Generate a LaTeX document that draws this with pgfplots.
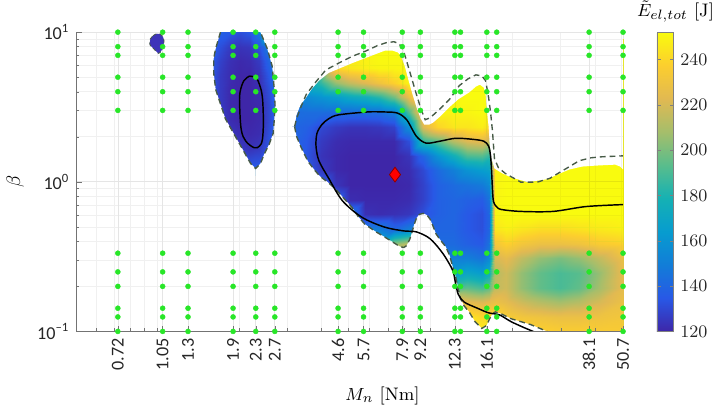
\documentclass[border=0pt]{standalone}
\usepackage{fontspec}
\usepackage{pgfplots}
\usepackage{pgfplotstable}
\pgfplotsset{compat=1.18}
\newfontfamily\calibri{Carlito}
\definecolor{dotgreen}{RGB}{40,230,40}
\definecolor{dashgray}{RGB}{70,90,70}
\definecolor{regA}{RGB}{62,52,185}
\pgfplotsset{colormap={parula}{rgb255=(62,38,168) rgb255=(40,88,230) rgb255=(18,125,216) rgb255=(7,156,207) rgb255=(21,177,180) rgb255=(89,189,140) rgb255=(165,190,107) rgb255=(225,185,82) rgb255=(252,206,46) rgb255=(249,251,14)}}

\pgfplotstableread{
x y c
3.112 9.03 170
3.519 9.03 175
3.980 9.03 205
4.502 9.03 245
5.092 9.03 250
5.759 9.03 250
6.514 9.03 252
7.368 9.03 252
8.334 9.03 252
9.426 9.03 252
10.66 9.03 252
12.06 9.03 252
13.64 9.03 252
15.43 9.03 252
16.34 9.03 252
17.30 9.03 252
18.94 9.03 252
21.43 9.03 252
25.25 9.03 252
29.75 9.03 252
35.06 9.03 252
41.32 9.03 252
50.7 9.03 252
3.112 7.209 170
3.519 7.209 175
3.980 7.209 205
4.502 7.209 245
5.092 7.209 250
5.759 7.209 250
6.514 7.209 252
7.368 7.209 252
8.334 7.209 252
9.426 7.209 252
10.66 7.209 252
12.06 7.209 252
13.64 7.209 252
15.43 7.209 252
16.34 7.209 252
17.30 7.209 252
18.94 7.209 252
21.43 7.209 252
25.25 7.209 252
29.75 7.209 252
35.06 7.209 252
41.32 7.209 252
50.7 7.209 252
3.112 5.756 165
3.519 5.756 172
3.980 5.756 200
4.502 5.756 240
5.092 5.756 245
5.759 5.756 248
6.514 5.756 250
7.368 5.756 250
8.334 5.756 252
9.426 5.756 252
10.66 5.756 252
12.06 5.756 252
13.64 5.756 252
15.43 5.756 252
16.34 5.756 252
17.30 5.756 252
18.94 5.756 252
21.43 5.756 252
25.25 5.756 252
29.75 5.756 252
35.06 5.756 252
41.32 5.756 252
50.7 5.756 252
3.112 4.596 160
3.519 4.596 168
3.980 4.596 185
4.502 4.596 205
5.092 4.596 215
5.759 4.596 222
6.514 4.596 230
7.368 4.596 238
8.334 4.596 250
9.426 4.596 250
10.66 4.596 252
12.06 4.596 252
13.64 4.596 252
15.43 4.596 252
16.34 4.596 250
17.30 4.596 252
18.94 4.596 252
21.43 4.596 252
25.25 4.596 252
29.75 4.596 252
35.06 4.596 252
41.32 4.596 252
50.7 4.596 252
3.112 3.669 150
3.519 3.669 155
3.980 3.669 160
4.502 3.669 165
5.092 3.669 172
5.759 3.669 176
6.514 3.669 183
7.368 3.669 198
8.334 3.669 228
9.426 3.669 248
10.66 3.669 250
12.06 3.669 250
13.64 3.669 252
15.43 3.669 252
16.34 3.669 250
17.30 3.669 252
18.94 3.669 252
21.43 3.669 252
25.25 3.669 252
29.75 3.669 252
35.06 3.669 252
41.32 3.669 252
50.7 3.669 252
3.112 2.930 142
3.519 2.930 143
3.980 2.930 143
4.502 2.930 142
5.092 2.930 142
5.759 2.930 142
6.514 2.930 143
7.368 2.930 150
8.334 2.930 192
9.426 2.930 240
10.66 2.930 250
12.06 2.930 250
13.64 2.930 250
15.43 2.930 252
16.34 2.930 248
17.30 2.930 252
18.94 2.930 252
21.43 2.930 252
25.25 2.930 252
29.75 2.930 252
35.06 2.930 252
41.32 2.930 252
50.7 2.930 252
3.112 2.339 140
3.519 2.339 138
3.980 2.339 130
4.502 2.339 126
5.092 2.339 124
5.759 2.339 124
6.514 2.339 125
7.368 2.339 128
8.334 2.339 158
9.426 2.339 222
10.66 2.339 240
12.06 2.339 245
13.64 2.339 245
15.43 2.339 248
16.34 2.339 240
17.30 2.339 252
18.94 2.339 252
21.43 2.339 252
25.25 2.339 252
29.75 2.339 252
35.06 2.339 252
41.32 2.339 252
50.7 2.339 252
3.112 1.868 140
3.519 1.868 135
3.980 1.868 126
4.502 1.868 122
5.092 1.868 121
5.759 1.868 121
6.514 1.868 121
7.368 1.868 121
8.334 1.868 132
9.426 1.868 185
10.66 1.868 195
12.06 1.868 212
13.64 1.868 222
15.43 1.868 225
16.34 1.868 215
17.30 1.868 252
18.94 1.868 252
21.43 1.868 252
25.25 1.868 252
29.75 1.868 252
35.06 1.868 252
41.32 1.868 252
50.7 1.868 252
3.112 1.491 140
3.519 1.491 134
3.980 1.491 124
4.502 1.491 121
5.092 1.491 120
5.759 1.491 120
6.514 1.491 120
7.368 1.491 120
8.334 1.491 124
9.426 1.491 140
10.66 1.491 160
12.06 1.491 175
13.64 1.491 190
15.43 1.491 192
16.34 1.491 185
17.30 1.491 252
18.94 1.491 252
21.43 1.491 252
25.25 1.491 252
29.75 1.491 252
35.06 1.491 252
41.32 1.491 252
50.7 1.491 252
3.112 1.191 140
3.519 1.191 136
3.980 1.191 126
4.502 1.191 121
5.092 1.191 120
5.759 1.191 120
6.514 1.191 120
7.368 1.191 120
8.334 1.191 122
9.426 1.191 130
10.66 1.191 142
12.06 1.191 150
13.64 1.191 160
15.43 1.191 165
16.34 1.191 168
17.30 1.191 250
18.94 1.191 252
21.43 1.191 252
25.25 1.191 252
29.75 1.191 252
35.06 1.191 252
41.32 1.191 252
50.7 1.191 252
3.112 0.9506 142
3.519 0.9506 138
3.980 0.9506 138
4.502 0.9506 124
5.092 0.9506 120
5.759 0.9506 120
6.514 0.9506 120
7.368 0.9506 120
8.334 0.9506 121
9.426 0.9506 128
10.66 0.9506 138
12.06 0.9506 142
13.64 0.9506 145
15.43 0.9506 148
16.34 0.9506 155
17.30 0.9506 250
18.94 0.9506 252
21.43 0.9506 252
25.25 0.9506 252
29.75 0.9506 252
35.06 0.9506 252
41.32 0.9506 252
50.7 0.9506 252
3.112 0.759 145
3.519 0.759 140
3.980 0.759 140
4.502 0.759 140
5.092 0.759 122
5.759 0.759 121
6.514 0.759 121
7.368 0.759 121
8.334 0.759 122
9.426 0.759 128
10.66 0.759 138
12.06 0.759 140
13.64 0.759 138
15.43 0.759 136
16.34 0.759 145
17.30 0.759 250
18.94 0.759 252
21.43 0.759 252
25.25 0.759 252
29.75 0.759 252
35.06 0.759 252
41.32 0.759 252
50.7 0.759 252
3.112 0.606 148
3.519 0.606 145
3.980 0.606 145
4.502 0.606 145
5.092 0.606 150
5.759 0.606 123
6.514 0.606 122
7.368 0.606 123
8.334 0.606 125
9.426 0.606 132
10.66 0.606 138
12.06 0.606 140
13.64 0.606 135
15.43 0.606 132
16.34 0.606 140
17.30 0.606 250
18.94 0.606 252
21.43 0.606 252
25.25 0.606 252
29.75 0.606 252
35.06 0.606 252
41.32 0.606 252
50.7 0.606 252
3.112 0.4838 155
3.519 0.4838 152
3.980 0.4838 150
4.502 0.4838 150
5.092 0.4838 150
5.759 0.4838 150
6.514 0.4838 150
7.368 0.4838 140
8.334 0.4838 150
9.426 0.4838 140
10.66 0.4838 140
12.06 0.4838 140
13.64 0.4838 135
15.43 0.4838 132
16.34 0.4838 140
17.30 0.4838 245
18.94 0.4838 248
21.43 0.4838 245
25.25 0.4838 242
29.75 0.4838 242
35.06 0.4838 244
41.32 0.4838 246
50.7 0.4838 248
3.112 0.3863 175
3.519 0.3863 175
3.980 0.3863 175
4.502 0.3863 170
5.092 0.3863 168
5.759 0.3863 165
6.514 0.3863 175
7.368 0.3863 205
8.334 0.3863 215
9.426 0.3863 150
10.66 0.3863 142
12.06 0.3863 142
13.64 0.3863 138
15.43 0.3863 135
16.34 0.3863 145
17.30 0.3863 232
18.94 0.3863 238
21.43 0.3863 232
25.25 0.3863 228
29.75 0.3863 228
35.06 0.3863 230
41.32 0.3863 235
50.7 0.3863 238
3.112 0.3084 200
3.519 0.3084 200
3.980 0.3084 200
4.502 0.3084 200
5.092 0.3084 200
5.759 0.3084 200
6.514 0.3084 205
7.368 0.3084 215
8.334 0.3084 220
9.426 0.3084 160
10.66 0.3084 150
12.06 0.3084 150
13.64 0.3084 150
15.43 0.3084 145
16.34 0.3084 155
17.30 0.3084 220
18.94 0.3084 225
21.43 0.3084 215
25.25 0.3084 205
29.75 0.3084 200
35.06 0.3084 205
41.32 0.3084 215
50.7 0.3084 228
3.112 0.2462 200
3.519 0.2462 200
3.980 0.2462 200
4.502 0.2462 200
5.092 0.2462 200
5.759 0.2462 200
6.514 0.2462 200
7.368 0.2462 200
8.334 0.2462 200
9.426 0.2462 170
10.66 0.2462 165
12.06 0.2462 165
13.64 0.2462 170
15.43 0.2462 165
16.34 0.2462 175
17.30 0.2462 212
18.94 0.2462 218
21.43 0.2462 205
25.25 0.2462 195
29.75 0.2462 190
35.06 0.2462 193
41.32 0.2462 205
50.7 0.2462 225
3.112 0.1966 210
3.519 0.1966 210
3.980 0.1966 210
4.502 0.1966 210
5.092 0.1966 210
5.759 0.1966 210
6.514 0.1966 210
7.368 0.1966 210
8.334 0.1966 210
9.426 0.1966 200
10.66 0.1966 195
12.06 0.1966 190
13.64 0.1966 195
15.43 0.1966 190
16.34 0.1966 195
17.30 0.1966 215
18.94 0.1966 218
21.43 0.1966 205
25.25 0.1966 195
29.75 0.1966 190
35.06 0.1966 195
41.32 0.1966 208
50.7 0.1966 225
3.112 0.157 230
3.519 0.157 230
3.980 0.157 230
4.502 0.157 230
5.092 0.157 230
5.759 0.157 230
6.514 0.157 230
7.368 0.157 230
8.334 0.157 230
9.426 0.157 230
10.66 0.157 230
12.06 0.157 230
13.64 0.157 225
15.43 0.157 222
16.34 0.157 225
17.30 0.157 228
18.94 0.157 225
21.43 0.157 218
25.25 0.157 212
29.75 0.157 208
35.06 0.157 212
41.32 0.157 220
50.7 0.157 228
3.112 0.1253 245
3.519 0.1253 245
3.980 0.1253 245
4.502 0.1253 245
5.092 0.1253 245
5.759 0.1253 245
6.514 0.1253 245
7.368 0.1253 245
8.334 0.1253 245
9.426 0.1253 245
10.66 0.1253 245
12.06 0.1253 245
13.64 0.1253 245
15.43 0.1253 240
16.34 0.1253 240
17.30 0.1253 242
18.94 0.1253 236
21.43 0.1253 232
25.25 0.1253 230
29.75 0.1253 228
35.06 0.1253 228
41.32 0.1253 230
50.7 0.1253 232
3.112 0.1 248
3.519 0.1 248
3.980 0.1 248
4.502 0.1 248
5.092 0.1 248
5.759 0.1 248
6.514 0.1 248
7.368 0.1 248
8.334 0.1 248
9.426 0.1 248
10.66 0.1 248
12.06 0.1 248
13.64 0.1 248
15.43 0.1 248
16.34 0.1 248
17.30 0.1 245
18.94 0.1 242
21.43 0.1 240
25.25 0.1 238
29.75 0.1 236
35.06 0.1 236
41.32 0.1 235
50.7 0.1 235
}\gridC

\pgfplotstableread{
x y c
1.574 10.03 140
1.708 10.03 138
1.855 10.03 135
2.014 10.03 132
2.186 10.03 135
2.373 10.03 150
2.576 10.03 195
2.797 10.03 235
1.574 8.010 138
1.708 8.010 132
1.855 8.010 126
2.014 8.010 124
2.186 8.010 125
2.373 8.010 132
2.576 8.010 150
2.797 8.010 180
1.574 6.395 136
1.708 6.395 128
1.855 6.395 123
2.014 6.395 121
2.186 6.395 122
2.373 6.395 126
2.576 6.395 140
2.797 6.395 160
1.574 5.107 135
1.708 5.107 126
1.855 5.107 122
2.014 5.107 120
2.186 5.107 120
2.373 5.107 123
2.576 5.107 135
2.797 5.107 150
1.574 4.078 135
1.708 4.078 126
1.855 4.078 121
2.014 4.078 120
2.186 4.078 120
2.373 4.078 122
2.576 4.078 132
2.797 4.078 145
1.574 3.256 135
1.708 3.256 126
1.855 3.256 121
2.014 3.256 120
2.186 3.256 120
2.373 3.256 121
2.576 3.256 130
2.797 3.256 142
1.574 2.600 135
1.708 2.600 128
1.855 2.600 122
2.014 2.600 120
2.186 2.600 120
2.373 2.600 121
2.576 2.600 130
2.797 2.600 142
1.574 2.077 135
1.708 2.077 130
1.855 2.077 125
2.014 2.077 122
2.186 2.077 121
2.373 2.077 122
2.576 2.077 132
2.797 2.077 142
1.574 1.658 138
1.708 1.658 135
1.855 1.658 130
2.014 1.658 126
2.186 1.658 124
2.373 1.658 126
2.576 1.658 134
2.797 1.658 142
1.574 1.324 140
1.708 1.324 140
1.855 1.324 138
2.014 1.324 135
2.186 1.324 133
2.373 1.324 134
2.576 1.324 138
2.797 1.324 142
1.574 1.106 142
1.708 1.106 142
1.855 1.106 142
2.014 1.106 142
2.186 1.106 142
2.373 1.106 142
2.576 1.106 142
2.797 1.106 142
}\gridB

\pgfplotstableread{
x y
0.72 0.1
0.72 0.125
0.72 0.1429
0.72 0.2
0.72 0.25
0.72 0.3333
0.72 3
0.72 4
0.72 5
0.72 7
0.72 8
0.72 10
1.05 0.1
1.05 0.125
1.05 0.1429
1.05 0.2
1.05 0.25
1.05 0.3333
1.05 3
1.05 4
1.05 5
1.05 7
1.05 8
1.05 10
1.3 0.1
1.3 0.125
1.3 0.1429
1.3 0.2
1.3 0.25
1.3 0.3333
1.3 3
1.3 4
1.3 5
1.3 7
1.3 8
1.3 10
1.9 0.1
1.9 0.125
1.9 0.1429
1.9 0.2
1.9 0.25
1.9 0.3333
1.9 3
1.9 4
1.9 5
1.9 7
1.9 8
1.9 10
2.3 0.1
2.3 0.125
2.3 0.1429
2.3 0.2
2.3 0.25
2.3 0.3333
2.3 3
2.3 4
2.3 5
2.3 7
2.3 8
2.3 10
2.7 0.1
2.7 0.125
2.7 0.1429
2.7 0.2
2.7 0.25
2.7 0.3333
2.7 3
2.7 4
2.7 5
2.7 7
2.7 8
2.7 10
4.6 0.1
4.6 0.125
4.6 0.1429
4.6 0.2
4.6 0.25
4.6 0.3333
4.6 3
4.6 4
4.6 5
4.6 7
4.6 8
4.6 10
5.7 0.1
5.7 0.125
5.7 0.1429
5.7 0.2
5.7 0.25
5.7 0.3333
5.7 3
5.7 4
5.7 5
5.7 7
5.7 8
5.7 10
7.9 0.1
7.9 0.125
7.9 0.1429
7.9 0.2
7.9 0.25
7.9 0.3333
7.9 3
7.9 4
7.9 5
7.9 7
7.9 8
7.9 10
9.2 0.1
9.2 0.125
9.2 0.1429
9.2 0.2
9.2 0.25
9.2 0.3333
9.2 3
9.2 4
9.2 5
9.2 7
9.2 8
9.2 10
12.3 0.1
12.3 0.125
12.3 0.1429
12.3 0.2
12.3 0.25
12.3 0.3333
12.3 3
12.3 4
12.3 5
12.3 7
12.3 8
12.3 10
12.9 0.1
12.9 0.125
12.9 0.1429
12.9 0.2
12.9 0.25
12.9 0.3333
12.9 3
12.9 4
12.9 5
12.9 7
12.9 8
12.9 10
16.1 0.1
16.1 0.125
16.1 0.1429
16.1 0.2
16.1 0.25
16.1 0.3333
16.1 3
16.1 4
16.1 5
16.1 7
16.1 8
16.1 10
17.5 0.1
17.5 0.125
17.5 0.1429
17.5 0.2
17.5 0.25
17.5 0.3333
17.5 3
17.5 4
17.5 5
17.5 7
17.5 8
17.5 10
38.1 0.1
38.1 0.125
38.1 0.1429
38.1 0.2
38.1 0.25
38.1 0.3333
38.1 3
38.1 4
38.1 5
38.1 7
38.1 8
38.1 10
50.7 0.1
50.7 0.125
50.7 0.1429
50.7 0.2
50.7 0.25
50.7 0.3333
50.7 3
50.7 4
50.7 5
50.7 7
50.7 8
50.7 10
}\dots

\begin{document}
\begin{tikzpicture}
\begin{axis}[
  scale only axis, width=280.5pt, height=153.5pt,
  xmode=log, ymode=log,
  xmin=0.507, xmax=50.7, ymin=0.1, ymax=10,
  axis on top,
  axis x line*=bottom, axis y line*=left,
  axis line style={black!55, line width=0.5pt},
  xtick={0.72,1.05,1.3,1.9,2.3,2.7,4.6,5.7,7.9,9.2,12.3,16.1,38.1,50.7},
  xticklabels={0.72,1.05,1.3,1.9,2.3,2.7,4.6,5.7,7.9,9.2,12.3,16.1,38.1,50.7},
  minor xtick={0.6,0.7,0.8,0.9,1,2,3,4,5,6,7,8,9,10,20,30,40,50},
  ytick={0.1,1,10},
  yticklabels={10\textsuperscript{–1},10\textsuperscript{0},10\textsuperscript{1}},
  minor ytick={0.2,0.3,0.4,0.5,0.6,0.7,0.8,0.9,2,3,4,5,6,7,8,9},
  grid=both,
  major grid style={black!10, line width=0.35pt, blend mode=darken},
  minor grid style={black!6, line width=0.3pt, blend mode=darken},
  tick style={black!55},
  major tick length=3pt, minor tick length=1.5pt,
  xticklabel style={rotate=90, anchor=east, font={\calibri\fontsize{9.3}{10}\selectfont}, text=black!85},
  yticklabel style={font={\calibri\fontsize{9.3}{10}\selectfont}, text=black!85},
  xlabel={$M_n$ [Nm]},
  xlabel style={at={(axis description cs:0.56,0)}, anchor=north, yshift=-25pt, font=\fontsize{9.3}{10}\selectfont},
  ylabel={$\beta$},
  ylabel style={font=\fontsize{10}{12}\selectfont},
  colormap name=parula,
  point meta min=120, point meta max=252,
  colorbar,
  colorbar shift/.style={xshift=11pt},
  colorbar style={
    width=8.5pt,
    ytick={120,140,160,180,200,220,240},
    yticklabel style={font=\fontsize{9.3}{10}\selectfont, text=black!85},
    axis line style={black!50},
    tick style={black!50},
    major tick length=2pt,
  },
]
% main feasible region
\addplot[surf, shader=interp, mesh/cols=23, point meta=explicit] table[x=x, y=y, meta=c] {\gridC};
% region around M_n = 2
\addplot[surf, shader=interp, mesh/cols=8, point meta=explicit] table[x=x, y=y, meta=c] {\gridB};
% masks (outside of feasible regions)
\addplot[fill=white, draw=none] coordinates {
(2.987,12) (2.987,2.339) (3.189,2.339) (3.242,2.801) (3.351,3.254) (3.519,3.669) (3.697,4.200) (3.915,4.736) (4.250,5.340) (4.691,5.756) (5.177,6.205) (5.759,6.688) (6.408,7.209) (6.843,7.541) (7.248,7.541) (7.614,7.318) (7.804,6.996) (8.065,5.932) (8.334,4.736) (8.612,3.838) (8.899,3.158) (9.197,2.678) (9.503,2.410) (9.902,2.410) (10.23,2.483) (10.93,2.759) (11.76,3.158) (12.66,3.560) (13.87,3.955) (14.69,4.329) (15.18,4.460) (15.69,4.264) (15.94,3.838) (16.07,3.158) (16.34,2.339) (16.48,1.813) (16.75,1.425) (17.17,1.227) (18.33,1.139) (19.74,1.072) (22.69,0.9947) (26.75,1.040) (29.26,1.122) (32.30,1.209) (35.93,1.264) (40.32,1.283) (47.51,1.302) (49.50,1.264) (50.73,1.209) (56,1.209) (56,12)};
\addplot[fill=white, draw=none] coordinates {
(2.987,2.339) (3.189,2.339) (3.242,2.013) (3.378,1.682) (3.577,1.362) (3.758,1.209) (3.948,1.089) (4.216,0.9947) (4.502,0.8952) (4.807,0.7822) (5.177,0.6731) (5.438,0.5881) (5.759,0.5215) (6.252,0.4695) (6.787,0.4291) (7.248,0.3981) (7.740,0.3693) (7.999,0.3638) (8.198,0.3749) (8.402,0.4102) (8.541,0.4489) (8.72,0.5137) (8.899,0.5707) (9.121,0.6060) (9.426,0.6152) (9.741,0.5970) (9.984,0.5622) (10.23,0.5061) (10.49,0.4489) (10.93,0.4041) (11.38,0.3693) (11.76,0.3227) (12.06,0.2735) (12.36,0.2354) (12.56,0.2056) (12.88,0.1667) (13.31,0.1478) (13.87,0.1351) (14.57,0.1163) (15.43,0.1047) (16.07,0.1095) (16.48,0.1216) (16.89,0.1311) (17.30,0.1351) (18.18,0.1311) (19.74,0.1216) (23.26,0.1112) (26.75,0.1) (26.75,0.09) (2.987,0.09)};
\addplot[fill=white, draw=none] coordinates {
(1.427,12) (1.709,12) (1.709,10.03) (1.641,7.771) (1.614,6.688) (1.614,5.340) (1.641,4.138) (1.781,2.638) (1.981,1.868) (2.204,1.322) (2.297,1.227) (2.297,1.025) (1.427,1.025)};
\addplot[fill=white, draw=none] coordinates {
(2.297,1.025) (2.297,1.227) (2.392,1.322) (2.472,1.536) (2.576,1.786) (2.663,2.106) (2.685,2.521) (2.706,3.254) (2.685,4.264) (2.641,5.932) (2.534,7.771) (2.432,9.305) (2.392,10.03) (2.392,12) (2.987,12) (2.987,1.025)};
% small region near M_n = 1.05
\addplot[fill=regA, draw=dashgray, line width=0.4pt, dash pattern=on 2pt off 1.5pt] coordinates {
(0.968,9.488) (0.9946,9.733) (1.028,9.733) (1.0535,9.305) (1.0623,8.762) (1.058,8.129) (1.051,7.771) (1.028,7.318) (1.0138,7.209) (0.9865,7.541) (0.9729,7.771) (0.9468,8.129) (0.9414,8.377) (0.9468,9.029) (0.968,9.488)};
% dashed boundaries
\addplot[dashgray, line width=0.7pt, dash pattern=on 3pt off 2pt] coordinates {
(3.189,2.339) (3.242,2.638) (3.351,3.111) (3.519,3.838) (3.820,4.666) (4.147,5.586) (4.691,6.299) (5.177,6.892) (5.759,7.429) (6.408,8.129) (6.900,8.504) (7.368,8.633) (7.677,8.377) (7.934,7.771) (8.198,6.394) (8.541,4.954) (8.899,3.838) (9.272,3.019) (9.582,2.598) (9.984,2.678) (10.84,3.064) (11.76,3.560) (12.77,4.394) (13.75,4.880) (14.69,5.182) (15.43,5.105) (15.94,4.736) (16.34,3.669) (16.61,2.930) (16.89,2.170) (17.17,1.425) (17.74,1.245) (18.79,1.139) (21.43,0.9947) (24.63,0.9947) (27.41,1.056) (29.75,1.156) (32.30,1.264) (35.06,1.383) (38.69,1.447) (42.35,1.469) (50.73,1.491)};
\addplot[dashgray, line width=0.7pt, dash pattern=on 3pt off 2pt] coordinates {
(3.189,2.339) (3.242,2.013) (3.378,1.682) (3.577,1.362) (3.758,1.209) (3.948,1.089) (4.216,0.9947) (4.502,0.8952) (4.807,0.7822) (5.177,0.6731) (5.438,0.5881) (5.759,0.5215) (6.252,0.4695) (6.787,0.4291) (7.248,0.3981) (7.740,0.3693) (7.999,0.3638) (8.198,0.3749) (8.402,0.4102) (8.541,0.4489) (8.72,0.5137) (8.899,0.5707) (9.121,0.6060) (9.426,0.6152) (9.741,0.5970) (9.984,0.5622) (10.23,0.5061) (10.49,0.4489) (10.93,0.4041) (11.38,0.3693) (11.76,0.3227) (12.06,0.2735) (12.36,0.2354) (12.56,0.2056) (12.88,0.1667) (13.31,0.1478) (13.87,0.1351) (14.57,0.1163) (15.43,0.1047) (16.07,0.1095) (16.48,0.1216) (16.89,0.1311) (17.30,0.1351) (18.18,0.1311) (19.74,0.1216) (23.26,0.1112) (26.75,0.1)};
\addplot[dashgray, line width=0.7pt, dash pattern=on 3pt off 2pt] coordinates {
(1.709,10.03) (1.641,7.771) (1.614,6.688) (1.614,5.340) (1.641,4.138) (1.781,2.638) (1.981,1.868) (2.204,1.322) (2.297,1.227) (2.392,1.322) (2.472,1.536) (2.576,1.786) (2.663,2.106) (2.685,2.521) (2.706,3.254) (2.685,4.264) (2.641,5.932) (2.534,7.771) (2.432,9.305) (2.392,10.03)};
% black contour lines
\addplot[black, line width=0.75pt, smooth, tension=0.5] coordinates {
(50.73,0.7041) (37.14,0.6833) (28.09,0.6339) (21.43,0.6339) (18.18,0.6532) (17.45,0.6833) (17.03,0.7365) (16.89,0.8819) (16.75,1.191) (16.61,1.491) (16.34,1.733) (15.69,1.868) (14.21,1.925) (12.36,1.953) (10.84,1.868) (9.661,1.813) (8.899,2.013) (8.198,2.598) (7.552,2.886) (6.676,2.930) (5.903,2.930) (4.614,2.801) (4.250,2.638) (4.013,2.410) (3.851,2.106) (3.820,1.733) (3.915,1.383) (4.250,1.056) (4.769,0.7477) (5.620,0.5793) (6.787,0.4986) (7.999,0.4695) (8.899,0.4626) (9.984,0.4164) (11.11,0.3325) (12.06,0.2575) (12.36,0.2119) (12.66,0.1770) (13.31,0.1570) (14.81,0.1434) (16.34,0.1331) (17.88,0.1291) (19.74,0.1163) (21.96,0.1063) (24.23,0.0986)};
\addplot[black, line width=0.75pt, smooth, tension=0.6] coordinates {
(2.181,5.082) (2.081,4.736) (2.014,3.955) (2.009,3.158) (2.036,2.226) (2.115,1.868) (2.273,1.689) (2.374,1.733) (2.432,1.916) (2.452,2.521) (2.432,3.669) (2.374,4.460) (2.303,4.954) (2.181,5.082)};
% sample points
\addplot[only marks, color=dotgreen, mark=*, mark size=1.3pt, mark options={fill=dotgreen, draw=dotgreen, line width=0.2pt}] table[x=x, y=y] {\dots};
% optimum
\addplot[only marks, mark=diamond*, mark size=3.8pt, mark options={fill=red, draw=red!55!black, line width=0.4pt}] coordinates {(7.43,1.117)};
\end{axis}
\node[anchor=base west, font=\fontsize{9.3}{11}\selectfont, inner sep=0pt, xshift=7pt, yshift=8pt] at (current axis.north east) {$\tilde{E}_{el,tot}$ [J]};
\path (current axis.south west) ++(-37pt,-36.5pt);
\path (current axis.north east) ++(39.5pt,16.5pt);
\end{tikzpicture}
\end{document}
